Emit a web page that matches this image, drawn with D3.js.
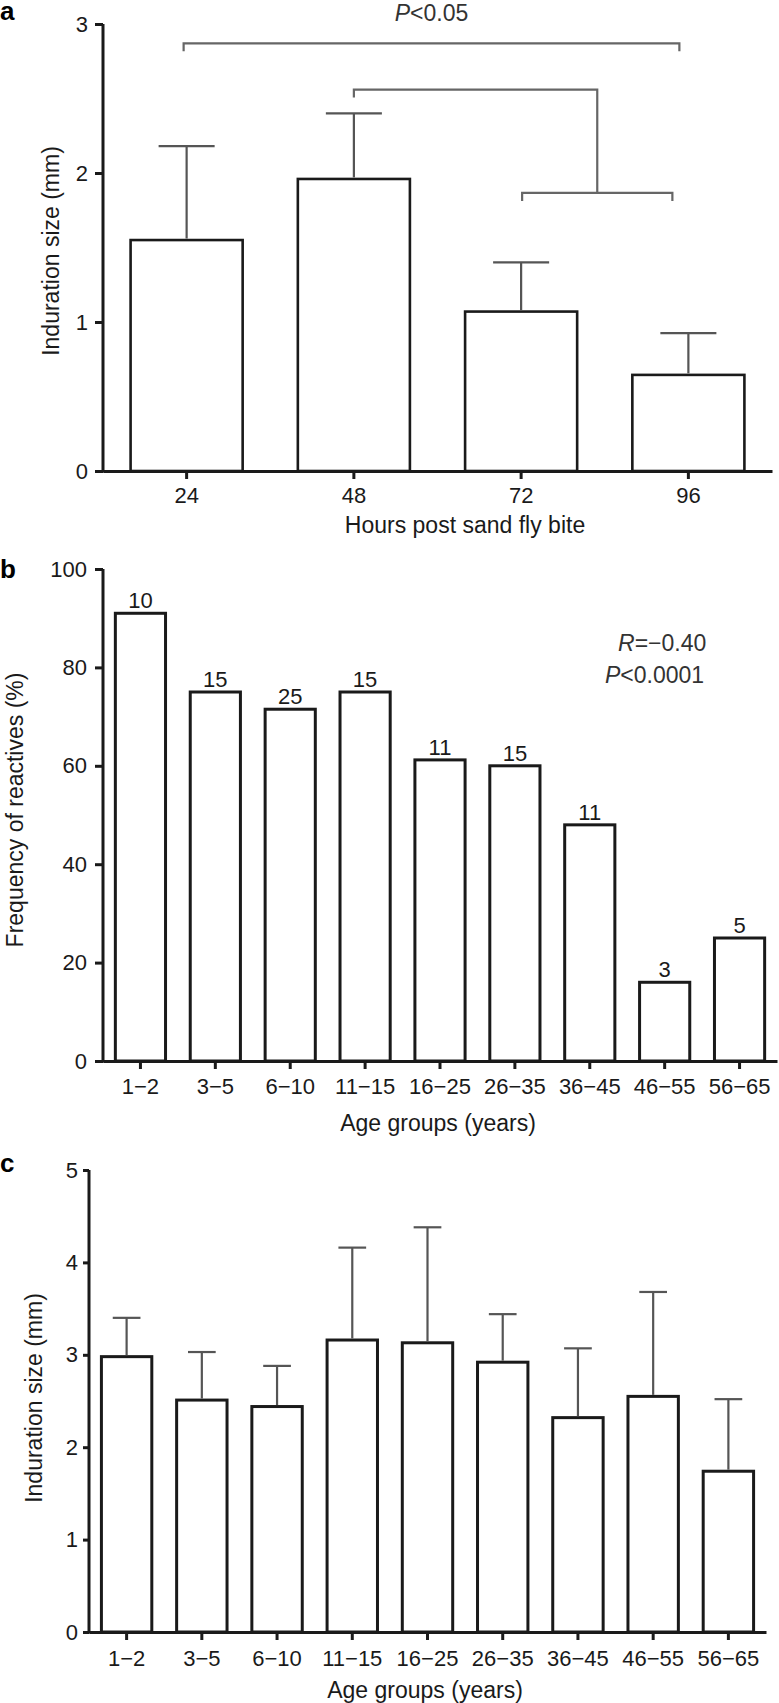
<!DOCTYPE html>
<html>
<head>
<meta charset="utf-8">
<script src="https://cdn.jsdelivr.net/npm/d3@7"></script>
<style>
    body { margin: 0; background: #fff; }
    svg { display: block; font-family: "Liberation Sans", Arial, Helvetica, sans-serif; }
</style>
</head>
<body>
<svg id="chart" width="779" height="1703"></svg>
<script>
// ---------------------- DATA ----------------------
// panel a: induration by hours after the bite
const hours = ["24", "48", "72", "96"];
const hoursMean = [1.55, 1.96, 1.07, 0.645];
const hoursErr = [0.63, 0.44, 0.33, 0.28];
const hoursTicks = [0, 1, 2, 3];
const sigLevels = [2.87, 2.56, 1.866]; // bracket heights (mm)

// panel b + c: age groups
const ageGroups = ["1−2", "3−5", "6−10", "11−15", "16−25", "26−35", "36−45", "46−55", "56−65"];
const reactivePct = [91, 75, 71.5, 75, 61.2, 60, 48, 16, 25];
const reactiveN = [10, 15, 25, 15, 11, 15, 11, 3, 5];
const pctTicks = [0, 20, 40, 60, 80, 100];

const ageMean = [2.98, 2.51, 2.44, 3.16, 3.13, 2.92, 2.32, 2.55, 1.74];
const ageErr = [0.42, 0.52, 0.44, 1.00, 1.25, 0.52, 0.75, 1.13, 0.78];
const ageTicks = [0, 1, 2, 3, 4, 5];

const svg = d3.select("#chart");
const INK = "#1a1a1a";
const ERR = "#555";

// ---------------------- HELPERS ----------------------
function bandScale(cats, range) {
    return d3.scaleBand().domain(cats).range(range).paddingInner(0.33).paddingOuter(0.165);
}

// draws both axes and styles them like the original figure
function drawAxes(x, y, ticks, o) {
    const gx = svg.append("g")
        .attr("transform", `translate(0,${y.range()[0]})`)
        .call(d3.axisBottom(x).tickSize(o.tick).tickSizeOuter(0).tickPadding(o.padX));
    const gy = svg.append("g")
        .attr("transform", `translate(${x.range()[0]},0)`)
        .call(d3.axisLeft(y).tickValues(ticks).tickFormat(d3.format("d"))
            .tickSize(o.tickY || o.tick).tickSizeOuter(0).tickPadding(o.padY));

    [gx, gy].forEach(g => {
        g.attr("font-family", null).attr("font-size", null);
        g.select(".domain").attr("stroke", INK).attr("stroke-width", 3);
        g.selectAll(".tick line").attr("stroke", INK).attr("stroke-width", 3);
        g.selectAll(".tick text").attr("fill", INK).style("font-size", o.font + "px");
    });
    // make the axes meet in the corner
    gy.select(".domain").attr("d", `M0,${y.range()[0] + 1.5}V${y.range()[1]}`);
}

function drawBars(cats, vals, x, y, width) {
    svg.append("g").selectAll("rect")
        .data(cats)
        .join("rect")
        .attr("x", d => x(d))
        .attr("y", (d, i) => y(vals[i]))
        .attr("width", x.bandwidth())
        .attr("height", (d, i) => y(0) - y(vals[i]))
        .attr("fill", "#fff")
        .attr("stroke", INK)
        .attr("stroke-width", width);
}

function drawErrors(cats, vals, errs, x, y, capFrac) {
    const g = svg.append("g").attr("stroke", ERR).attr("stroke-width", 2.2);
    const cap = x.bandwidth() * capFrac / 2;
    cats.forEach((c, i) => {
        const cx = x(c) + x.bandwidth() / 2;
        const top = y(vals[i] + errs[i]);
        g.append("line").attr("x1", cx).attr("x2", cx).attr("y1", y(vals[i]) - 1.5).attr("y2", top);
        g.append("line").attr("x1", cx - cap).attr("x2", cx + cap).attr("y1", top).attr("y2", top);
    });
}

function yTitle(text, x, yMid) {
    svg.append("text")
        .attr("transform", `translate(${x},${yMid}) rotate(-90)`)
        .attr("text-anchor", "middle")
        .attr("fill", INK)
        .style("font-size", "23px")
        .text(text);
}

function xTitle(text, x, y) {
    svg.append("text")
        .attr("x", x).attr("y", y)
        .attr("text-anchor", "middle")
        .attr("fill", INK)
        .style("font-size", "23px")
        .text(text);
}

function panelLetter(letter, y) {
    svg.append("text")
        .attr("x", 0).attr("y", y)
        .attr("fill", "#000")
        .style("font-size", "26px")
        .style("font-weight", "bold")
        .text(letter);
}

// ---------------------- PANEL A ----------------------
const xa = bandScale(hours, [103, 772]);
const ya = d3.scaleLinear().domain([0, 3]).range([471, 24]);

drawBars(hours, hoursMean, xa, ya, 2.6);
drawErrors(hours, hoursMean, hoursErr, xa, ya, 0.5);
drawAxes(xa, ya, hoursTicks, {tick: 8, padX: 8, padY: 7, font: 22});

// significance brackets
const mid = c => xa(c) + xa.bandwidth() / 2;
const br = svg.append("g").attr("fill", "none").attr("stroke", "#666").attr("stroke-width", 2.2);
const yTop = ya(sigLevels[0]), yMidB = ya(sigLevels[1]), yLow = ya(sigLevels[2]);
br.append("path").attr("d", `M${mid("24") - 3},${yTop + 8}V${yTop}H${mid("96") - 9}V${yTop + 8}`);
const lowL = mid("72") + 1, lowR = mid("96") - 16;
br.append("path").attr("d", `M${lowL},${yLow + 8}V${yLow}H${lowR}V${yLow + 8}`);
const lowMid = (lowL + lowR) / 2;
br.append("path").attr("d", `M${lowMid},${yLow}V${yMidB}H${mid("48")}V${yMidB + 8}`);

const pTxt = svg.append("text")
    .attr("x", (mid("24") - 3 + mid("96") - 9) / 2).attr("y", 21)
    .attr("text-anchor", "middle").attr("fill", "#333")
    .style("font-size", "23px");
pTxt.append("tspan").style("font-style", "italic").text("P");
pTxt.append("tspan").text("<0.05");

panelLetter("a", 20);
yTitle("Induration size (mm)", 59, 251);
xTitle("Hours post sand fly bite", 465, 533);

// ---------------------- PANEL B ----------------------
const xb = bandScale(ageGroups, [103, 777]);
const yb = d3.scaleLinear().domain([0, 100]).range([1061, 569]);

drawBars(ageGroups, reactivePct, xb, yb, 3);
drawAxes(xb, yb, pctTicks, {tick: 8, padX: 9, padY: 8, font: 22});

svg.append("g").selectAll("text")
    .data(ageGroups)
    .join("text")
    .attr("x", d => xb(d) + xb.bandwidth() / 2)
    .attr("y", (d, i) => yb(reactivePct[i]) - 5)
    .attr("text-anchor", "middle")
    .attr("fill", INK)
    .style("font-size", "22px")
    .text((d, i) => reactiveN[i]);

const rTxt = svg.append("text").attr("x", 618).attr("y", 651).attr("fill", "#333").style("font-size", "23px");
rTxt.append("tspan").style("font-style", "italic").text("R");
rTxt.append("tspan").text("=−0.40");
const p2Txt = svg.append("text").attr("x", 605).attr("y", 683).attr("fill", "#333").style("font-size", "23px");
p2Txt.append("tspan").style("font-style", "italic").text("P");
p2Txt.append("tspan").text("<0.0001");

panelLetter("b", 578);
yTitle("Frequency of reactives (%)", 23, 810);
xTitle("Age groups (years)", 438, 1131);

// ---------------------- PANEL C ----------------------
const xc = bandScale(ageGroups, [89, 766]);
const yc = d3.scaleLinear().domain([0, 5]).range([1632, 1170]);

drawBars(ageGroups, ageMean, xc, yc, 3);
drawErrors(ageGroups, ageMean, ageErr, xc, yc, 0.55);
drawAxes(xc, yc, ageTicks, {tick: 8, tickY: 6, padX: 10, padY: 5, font: 22});

panelLetter("c", 1172);
yTitle("Induration size (mm)", 42, 1398);
xTitle("Age groups (years)", 425, 1698);
</script>
</body>
</html>
